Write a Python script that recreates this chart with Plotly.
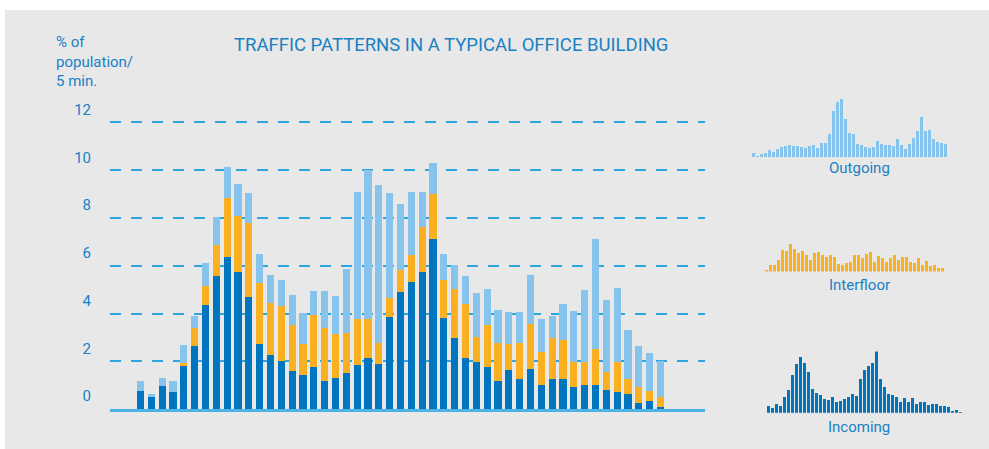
import plotly.graph_objects as go

# Colours
THEME = {
    "bg": "#e8e8e8",
    "incoming": "#0075bf",
    "interfloor": "#fbb022",
    "outgoing": "#86c3ed",
    "grid": "#2fa6df",
    "base": "#4db3e6",
    "text": "#1a80c4",
}
FONT = "Roboto"

# 5-minute intervals across the day (49 samples)
intervals = list(range(1, 50))

# % of population per 5 min, by traffic type
incoming = [0.78, 0.53, 0.99, 0.74, 1.82, 2.65, 4.36, 5.57, 6.36, 5.74,
            4.69, 2.74, 2.28, 2.03, 1.61, 1.44, 1.78, 1.19, 1.32, 1.53,
            1.86, 2.15, 1.90, 3.86, 4.90, 5.32, 5.74, 7.11, 3.82, 2.99,
            2.15, 1.99, 1.78, 1.19, 1.65, 1.28, 1.69, 1.03, 1.28, 1.28,
            0.94, 1.03, 1.03, 0.82, 0.74, 0.65, 0.24, 0.36, 0.11]
interfloor = [0.00, 0.00, 0.00, 0.00, 0.12, 0.73, 0.79, 1.29, 2.50, 2.33,
              3.09, 2.54, 2.16, 2.29, 1.92, 1.27, 2.16, 2.19, 1.83, 1.66,
              1.92, 1.63, 0.88, 0.79, 0.92, 1.12, 1.87, 1.88, 1.58, 2.04,
              2.25, 1.04, 1.76, 1.59, 1.09, 1.50, 1.88, 1.37, 1.71, 1.62,
              1.05, 0.96, 1.50, 0.75, 1.25, 0.63, 0.70, 0.42, 0.38]
outgoing = [0.41, 0.12, 0.33, 0.45, 0.75, 0.52, 0.96, 1.17, 1.29, 1.37,
            1.25, 1.21, 1.17, 1.08, 1.25, 1.32, 1.00, 1.56, 1.59, 2.67,
            5.29, 6.25, 6.62, 4.38, 2.75, 2.67, 1.46, 1.33, 1.09, 1.00,
            1.17, 1.83, 1.49, 1.37, 1.33, 1.29, 2.04, 1.38, 0.91, 1.50,
            2.12, 3.00, 4.58, 3.00, 3.08, 2.04, 1.71, 1.58, 1.54]

y_ticks = [0, 2, 4, 6, 8, 10, 12]

W, H = 989, 449
# the capture puts an 8px strip above the page and squeezes it back to 449px,
# so screen y = OFF + S * figure y
OFF = 8
S = (H - OFF) / H


def px_x(a, b):
    return [a / W, b / W]


def py(y):
    # screen pixel (from top of window) -> paper fraction
    return (H - (y - OFF) / S) / H


def px_y(top, bottom):
    return [py(bottom), py(top)]


fig = go.Figure()

# main stacked chart
for name, vals, col in [("Incoming", incoming, THEME["incoming"]),
                        ("Interfloor", interfloor, THEME["interfloor"]),
                        ("Outgoing", outgoing, THEME["outgoing"])]:
    fig.add_trace(go.Bar(x=intervals, y=vals, name=name, marker_color=col,
                         marker_line_width=0, width=0.65, showlegend=False,
                         xaxis="x", yaxis="y"))

# small multiples on the right: (label, data, colour, axis id, x px span, baseline px, label px)
minis = [("Outgoing", outgoing, THEME["outgoing"], "2", (751.5, 947.5), 155.7, 167),
         ("Interfloor", interfloor, THEME["interfloor"], "3", (748.5, 944.5), 270.7, 284),
         ("Incoming", incoming, THEME["incoming"], "4", (766.5, 962.5), 412.7, 427)]
scale = 8.8  # screen px per unit
for name, vals, col, k, (x0, x1), base, lab_y in minis:
    fig.add_trace(go.Bar(x=intervals, y=vals, marker_color=col, marker_line_width=0,
                         width=0.75, showlegend=False, xaxis="x" + k, yaxis="y" + k))
    fig.update_layout(**{
        "xaxis" + k: dict(domain=px_x(x0, x1), range=[0.5, 49.5], visible=False,
                          anchor="y" + k),
        "yaxis" + k: dict(domain=px_y(base - 7 * scale, base), range=[0, 7],
                          visible=False, anchor="x" + k),
    })
    fig.add_annotation(text=name, xref="paper", yref="paper",
                       x=859 / W, y=py(lab_y), xanchor="center",
                       yanchor="middle", showarrow=False,
                       font=dict(family=FONT, size=15, color=THEME["text"]))

fig.update_layout(
    width=W, height=H, autosize=False,
    margin=dict(l=0, r=0, t=0, b=0),
    paper_bgcolor="white",
    plot_bgcolor="rgba(0,0,0,0)",
    barmode="stack",
    font=dict(family=FONT, color=THEME["text"]),
    xaxis=dict(domain=px_x(110, 705), range=[-1.815, 53.11], showgrid=False,
               showticklabels=False, zeroline=False, showline=True,
               linecolor=THEME["base"], linewidth=2.5, anchor="y"),
    yaxis=dict(domain=px_y(109, 409), range=[0, 12.5], tickvals=y_ticks,
               showgrid=True, gridcolor=THEME["grid"], gridwidth=2,
               griddash="11px,10px", zeroline=False, ticks="",
               ticklabelshift=-13, ticklabelstandoff=18,
               tickfont=dict(family=FONT, size=15, color=THEME["text"]),
               anchor="x"),
    shapes=[dict(type="rect", xref="paper", yref="paper", x0=5 / W, x1=1,
                 y0=0, y1=1, fillcolor=THEME["bg"], line_width=0,
                 layer="below")],
)

fig.add_annotation(text="TRAFFIC PATTERNS IN A TYPICAL OFFICE BUILDING",
                   xref="paper", yref="paper", x=450.5 / W, y=py(43),
                   showarrow=False, xanchor="center", yanchor="middle",
                   font=dict(family=FONT, size=18.5, color=THEME["text"]))
fig.add_annotation(text="% of<br>population/<br>5 min.",
                   xref="paper", yref="paper", x=54 / W, y=py(29),
                   showarrow=False, xanchor="left", yanchor="top", align="left",
                   font=dict(family=FONT, size=15, color=THEME["text"]))

# pin the figure to the window's left edge
pin = ("document.body.style.margin='0';"
       "var gd=document.getElementById('{plot_id}');"
       "gd.style.position='fixed';gd.style.left='0px';gd.style.top='0px';")
fig.write_html("out.html", config={"displayModeBar": False}, post_script=pin)
